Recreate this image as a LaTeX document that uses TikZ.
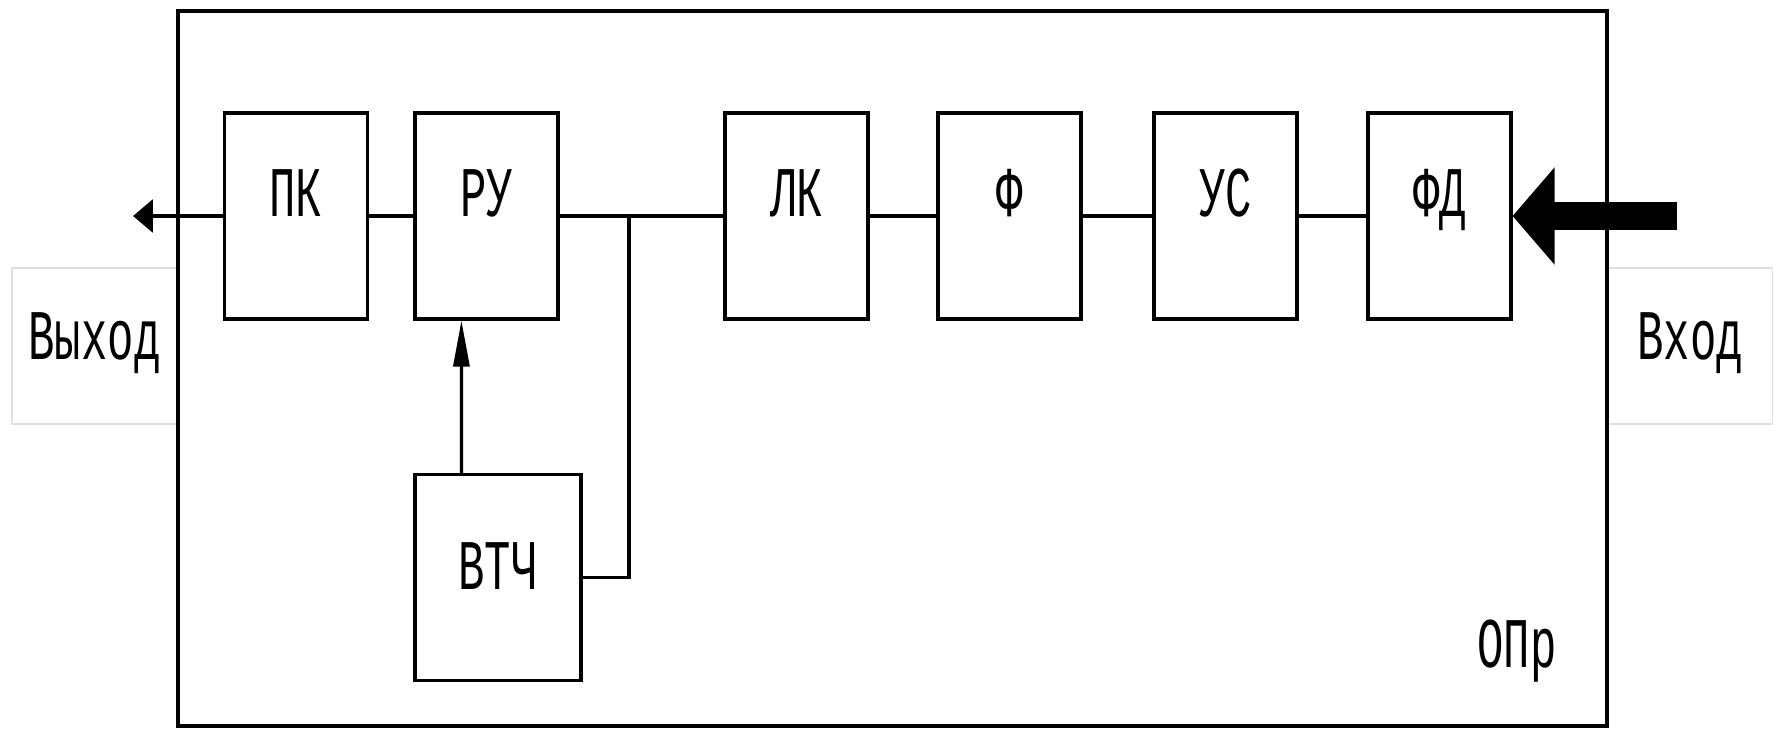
\documentclass[tikz,border=0pt]{standalone}
\usepackage{fontspec}
\setmainfont{Liberation Mono}
\usetikzlibrary{arrows.meta}
\newcommand{\vyt}[1]{\scalebox{1}[1.62]{#1}}
\tikzset{
	blok/.style={draw, line width=1.8pt, inner sep=0pt, minimum width=2.86cm, minimum height=4.12cm,
		text height=0pt, text depth=0pt, font=\fontsize{25}{25}\selectfont},
	vyvod/.style={draw=black!12, line width=0.6pt, inner sep=0pt, minimum width=3.3cm, minimum height=3.12cm,
		text height=0.52cm, text depth=0pt, font=\fontsize{25}{25}\selectfont},
	liniya/.style={line width=1.8pt},
}
\begin{document}
\begin{tikzpicture}[x=0.02cm, y=-0.02cm]

	\useasboundingbox (0,0) rectangle (1779,731);
	% vkhod / vykhod
	\node [vyvod] (vykh) at (94.5,346) {\vyt{Выход}};
	\node [vyvod] (vkh) at (1690,346) {\vyt{Вход}};
	\draw [liniya] (178,11) rectangle (1607,726);
	\node [text height=0pt, text depth=0pt, font=\fontsize{25}{25}\selectfont] (opr) at (1517,667) {\vyt{ОПр}};

	\node [blok] (pk) at (296,216) {\vyt{ПК}};
	\node [blok] (ru) at (486.5,216) {\vyt{РУ}};
	\node [blok] (lk) at (796.5,216) {\vyt{ЛК}};
	\node [blok] (f) at (1009.5,216) {\vyt{Ф}};
	\node [blok] (us) at (1225.5,216) {\vyt{УС}};
	\node [blok] (fd) at (1439.5,216) {\vyt{ФД}};
	\node [blok, minimum width=3.32cm, text height=0.48cm] (vtch) at (498,577.5) {\vyt{ВТЧ}};

	\coordinate (vyhod) at (133,216);
	\coordinate (uzel) at (629,216);
	\coordinate (vhod) at (1677,216);

	\draw [liniya, -{Triangle[length=0.4cm, width=0.66cm]}] (pk.west) -- (vyhod);
	\draw [liniya] (pk) -- (ru);
	\draw [liniya] (ru) -- (lk);
	\draw [liniya] (lk) -- (f);
	\draw [liniya] (f) -- (us);
	\draw [liniya] (us) -- (fd);
	\draw [liniya] (uzel) |- (vtch.east);
	\draw [liniya, -{Triangle[length=0.92cm, width=0.32cm]}] ([xshift=0.96cm]vtch.north west) -- ([xshift=0.96cm]ru.south west);
	\draw [line width=0.56cm, -{Triangle[length=0.84cm, width=1.9cm]}] (vhod) -- (fd.east);

\end{tikzpicture}
\end{document}
